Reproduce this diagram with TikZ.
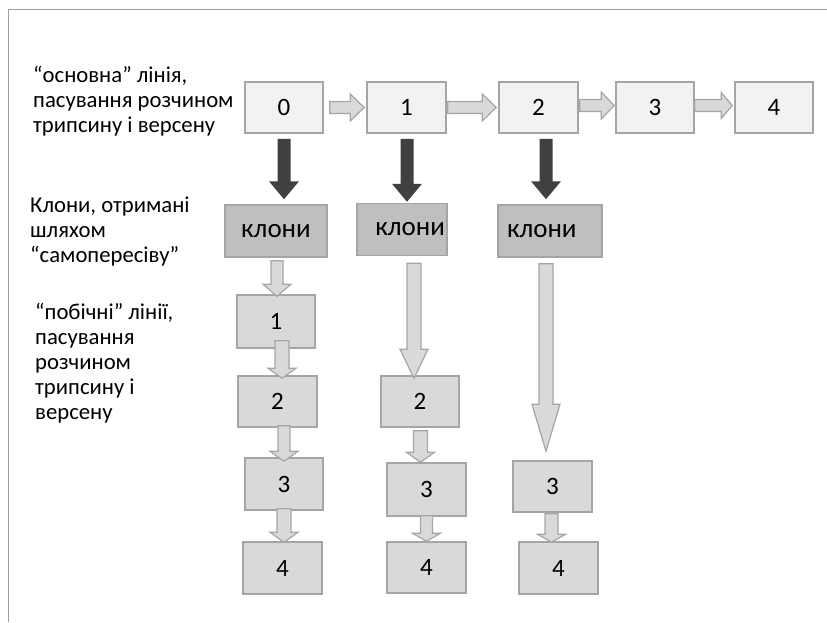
\documentclass[tikz,border=0pt]{standalone}
\usepackage{fontspec}
\setmainfont{Carlito}
\usetikzlibrary{calc}
\definecolor{framec}{HTML}{9E9E9E}
\definecolor{borderc}{HTML}{A5A5A5}
\definecolor{topfill}{HTML}{F2F2F2}
\definecolor{klfill}{HTML}{BFBFBF}
\definecolor{lowfill}{HTML}{D9D9D9}
\definecolor{darkc}{HTML}{404040}
% vertical block arrow: #1 style, #2 start, #3 tip, #4 half shaft, #5 half head, #6 head length
\newcommand{\vblk}[6]{%
  \path[#1] let \p1=(#2), \p2=(#3) in
    (\x1-#4pt,\y1) -- (\x1+#4pt,\y1) -- (\x1+#4pt,\y2+#6pt) -- (\x1+#5pt,\y2+#6pt)
    -- (\x1,\y2) -- (\x1-#5pt,\y2+#6pt) -- (\x1-#4pt,\y2+#6pt) -- cycle;}
% horizontal block arrow
\newcommand{\hblk}[6]{%
  \path[#1] let \p1=(#2), \p2=(#3) in
    (\x1,\y1+#4pt) -- (\x2-#6pt,\y1+#4pt) -- (\x2-#6pt,\y1+#5pt) -- (\x2,\y1)
    -- (\x2-#6pt,\y1-#5pt) -- (\x2-#6pt,\y1-#4pt) -- (\x1,\y1-#4pt) -- cycle;}
\begin{document}
\begin{tikzpicture}[x=1pt,y=-1pt,
  topbox/.style={draw=borderc, line width=1.5pt, fill=topfill, minimum width=78pt, minimum height=51pt, inner sep=0pt, font=\fontsize{25}{28}\selectfont},
  lowbox/.style={draw=borderc, line width=1.5pt, fill=lowfill, minimum width=79pt, minimum height=52pt, inner sep=0pt, font=\fontsize{25}{28}\selectfont},
  klbox/.style={draw=borderc, line width=1.5pt, fill=klfill, minimum height=52pt, inner ysep=0pt, font=\fontsize{27}{30}\selectfont},
  lbl/.style={align=left, inner sep=0pt, font=\fontsize{22.7}{25}\selectfont},
  darkarr/.style={fill=darkc},
  lightarr/.style={fill=lowfill, draw=borderc, line width=1.2pt, line join=miter}
]
\useasboundingbox (0,0) rectangle (827,622);
\draw[framec, line width=1.5pt] (8.5,622) -- (8.5,9.5) -- (827,9.5);

% labels (anchor at baseline of the last line)
\node[lbl, anchor=base west] (lab1) at (33,132) {“основна” лінія,\\пасування розчином\\трипсину і версену};
\node[lbl, anchor=base west] (lab2) at (30,262) {Клони, отримані\\шляхом\\“самопересіву”};
\node[lbl, anchor=base west] (lab3) at (35,419) {“побічні” лінії,\\пасування\\розчином\\трипсину і\\версену};

% main line
\node[topbox] (t0) at (284,107.5) {0};
\node[topbox, minimum width=79pt] (t1) at (406.5,107.5) {1};
\node[topbox, minimum width=79pt] (t2) at (538.5,107.5) {2};
\node[topbox] (t3) at (655,107.5) {3};
\node[topbox] (t4) at (774,107.5) {4};

% clones
\node[klbox, minimum width=102pt, inner xsep=0pt] (k1) at (276,231) {клони};
\node[klbox, minimum width=90pt, text width=86pt, inner xsep=2pt, align=right] (k2) at (402,229.5) {клони};
\node[klbox, minimum width=104pt, text width=86pt, inner xsep=9pt, align=left] (k3) at (550,231) {клони};

% side lines
\node[lowbox, minimum width=78pt, minimum height=53pt] (b1) at (276,321.5) {1};
\node[lowbox, minimum height=51pt] (b2) at (277.5,401.5) {2};
\node[lowbox, minimum width=78pt] (b3) at (284,484) {3};
\node[lowbox] (b4) at (282.5,568) {4};

\node[lowbox, minimum width=78pt, minimum height=51pt] (c2) at (420,401.5) {2};
\node[lowbox, minimum height=53pt] (c3) at (426.5,489.5) {3};
\node[lowbox, minimum height=51pt] (c4) at (426.5,567.5) {4};

\node[lowbox, minimum height=51pt] (d3) at (552.5,486.5) {3};
\node[lowbox] (d4) at (558.5,568) {4};

% horizontal arrows
\hblk{lightarr}{$(t0.east)+(6,0)$}{$(t1.west)+(-2,0)$}{6}{13.5}{14}
\hblk{lightarr}{$(t1.east)+(1,0)$}{$(t2.west)+(-2,0)$}{6}{13.5}{14}
\hblk{lightarr}{$(t2.east)+(1,-2)$}{$(t3.west)+(-1,0)$}{6}{13.5}{13}
\hblk{lightarr}{$(t3.east)+(0,-2)$}{$(t4.west)+(-2,0)$}{6}{13}{11}

% dark arrows
\vblk{darkarr}{$(t0.south)+(0,5)$}{$(k1.north)+(0,-5)$}{6.5}{15}{18}
\vblk{darkarr}{$(t1.south)+(0.5,5)$}{$(k2.north)+(0,-1)$}{6.5}{15}{18}
\vblk{darkarr}{$(t2.south)+(7.5,5)$}{$(k3.north)+(0,-5)$}{6.5}{15}{18}

% light vertical arrows
\vblk{lightarr}{$(k1.south)+(1,3)$}{$(b1.north)+(0,2)$}{6}{14}{12}
\vblk{lightarr}{$(b1.south)+(6,-8)$}{$(b2.north)+(0,3)$}{7}{14}{10}
\vblk{lightarr}{$(b2.south)+(6.5,-2)$}{$(b3.north)+(0,4)$}{6}{14}{10}
\vblk{lightarr}{$(b3.south)+(0,-2)$}{$(b4.north)+(0,1)$}{7}{14}{10}

\vblk{lightarr}{$(k2.south)+(12,7)$}{$(c2.north)+(0,3)$}{7}{14}{29}
\vblk{lightarr}{$(c2.south)+(0.5,3)$}{$(c3.north)+(0,0)$}{7}{14}{10}
\vblk{lightarr}{$(c3.south)+(0,-1)$}{$(c4.north)+(0,0)$}{6}{14}{8}

\vblk{lightarr}{$(k3.south)+(-4,6)$}{$(d3.north)+(0,-9)$}{7}{14}{47}
\vblk{lightarr}{$(d3.south)+(-1,1)$}{$(d4.north)+(0,1)$}{6.5}{14}{8}
\end{tikzpicture}
\end{document}
